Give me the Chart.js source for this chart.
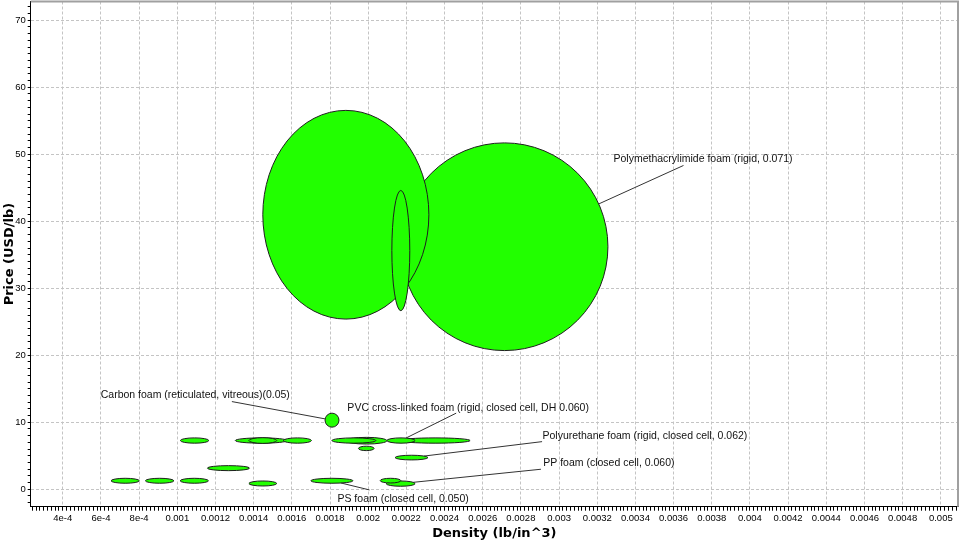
<!DOCTYPE html>
<html lang="en">
<head>
    <meta charset="UTF-8">
    <title>Price vs Density - Foams</title>
    <script src="https://cdn.jsdelivr.net/npm/chart.js"></script>
    <style>
        html, body {
            margin: 0;
            padding: 0;
            background: #ffffff;
        }
        .chart-box {
            width: 960px;
            height: 541px;
            position: relative;
        }
    </style>
</head>
<body>
    <div class="chart-box"><canvas id="foamChart"></canvas></div>

    <script>
        // Each material is a range: density (lb/in^3) and price (USD/lb)
        const materialNames = [
            'Polymethacrylimide foam (rigid, 0.071)', '', '', 'Carbon foam (reticulated, vitreous)(0.05)',
            '', '', '', '', '', '', 'PVC cross-linked foam (rigid, closed cell, DH 0.060)', '',
            '', 'Polyurethane foam (rigid, closed cell, 0.062)', '',
            '', '', '', 'PS foam (closed cell, 0.050)', '', '', 'PP foam (closed cell, 0.060)'
        ];
        const densityLow  = [0.002172, 0.001448, 0.002124, 0.001774, 0.001016, 0.001304, 0.001375, 0.001556, 0.00181, 0.001883, 0.002098, 0.002167, 0.001949, 0.002141, 0.001158, 0.000653, 0.000833, 0.001015, 0.0017, 0.001375, 0.002063, 0.002094];
        const densityHigh = [0.003256, 0.002318, 0.002218, 0.001847, 0.001165, 0.001575, 0.001521, 0.001703, 0.00204, 0.002098, 0.002246, 0.002534, 0.002031, 0.002313, 0.001378, 0.000801, 0.000982, 0.001163, 0.00192, 0.001521, 0.002171, 0.002246];
        const priceLow    = [20.7, 25.4, 26.65, 9.27, 6.88, 6.88, 6.85, 6.88, 6.88, 6.75, 6.88, 6.88, 5.77, 4.38, 2.78, 0.9, 0.9, 0.9, 0.9, 0.49, 0.94, 0.45];
        const priceHigh   = [51.7, 56.55, 44.6, 11.36, 7.67, 7.67, 7.7, 7.67, 7.67, 7.75, 7.67, 7.67, 6.43, 5.08, 3.53, 1.64, 1.64, 1.64, 1.64, 1.24, 1.64, 1.24];

        // Callouts: material index, text anchor (left, middle) and leader end, in data units
        const callouts = [
            { i: 0,  tx: 0.003285, ty: 49.33, lx: 0.003652, ly: 48.33 },
            { i: 3,  tx: 0.000599, ty: 13.99, lx: 0.001286, ly: 13.09 },
            { i: 10, tx: 0.001891, ty: 12.11, lx: 0.002461, ly: 11.36 },
            { i: 13, tx: 0.002913, ty: 7.97,  lx: 0.002911, ly: 7.11 },
            { i: 21, tx: 0.002917, ty: 3.89,  lx: 0.002905, ly: 2.99 },
            { i: 18, tx: 0.001839, ty: -1.49, lx: 0.002007, ly: -0.1 }
        ];

        const centers = densityLow.map((d, i) => ({
            x: (d + densityHigh[i]) / 2,
            y: (priceLow[i] + priceHigh[i]) / 2
        }));

        function xTickLabel(v) {
            if (v < 0.00099) return Math.round(v * 1e4) + 'e-4';
            return String(Number(v.toPrecision(3)));
        }

        // draws every range as an ellipse through the chart scales, biggest first
        const rangeEllipses = {
            id: 'rangeEllipses',
            afterDatasetsDraw(chart) {
                const { ctx, chartArea, scales: { x, y } } = chart;

                ctx.save();
                ctx.strokeStyle = '#a0a0a0';
                ctx.lineWidth = 2;
                ctx.beginPath();
                ctx.moveTo(chartArea.left, chartArea.top);
                ctx.lineTo(chartArea.right, chartArea.top);
                ctx.lineTo(chartArea.right, chartArea.bottom);
                ctx.stroke();
                ctx.restore();

                const area = i => (densityHigh[i] - densityLow[i]) * (priceHigh[i] - priceLow[i]);
                const order = densityLow.map((_, i) => i).sort((a, b) => area(b) - area(a));

                ctx.save();
                ctx.beginPath();
                ctx.rect(chartArea.left, chartArea.top, chartArea.width, chartArea.height);
                ctx.clip();

                const geo = [];
                densityLow.forEach((d, i) => {
                    const x1 = x.getPixelForValue(d), x2 = x.getPixelForValue(densityHigh[i]);
                    const y1 = y.getPixelForValue(priceLow[i]), y2 = y.getPixelForValue(priceHigh[i]);
                    geo[i] = { cx: (x1 + x2) / 2, cy: (y1 + y2) / 2, rx: Math.abs(x2 - x1) / 2, ry: Math.abs(y2 - y1) / 2 };
                });

                order.forEach(i => {
                    const g = geo[i];
                    ctx.beginPath();
                    ctx.ellipse(g.cx, g.cy, g.rx, g.ry, 0, 0, Math.PI * 2);
                    ctx.fillStyle = '#22ff00';
                    ctx.fill();
                    ctx.lineWidth = 1;
                    ctx.strokeStyle = '#1e1e1e';
                    ctx.stroke();
                });

                // leader lines + labels
                ctx.font = '10.5px "Liberation Sans", Arial, sans-serif';
                ctx.textBaseline = 'middle';
                ctx.textAlign = 'left';
                callouts.forEach(c => {
                    const g = geo[c.i];
                    const ex = x.getPixelForValue(c.lx), ey = y.getPixelForValue(c.ly);
                    const dx = ex - g.cx, dy = ey - g.cy;
                    const t = 1 / Math.sqrt((dx / g.rx) ** 2 + (dy / g.ry) ** 2);
                    ctx.beginPath();
                    ctx.moveTo(g.cx + dx * t, g.cy + dy * t);
                    ctx.lineTo(ex, ey);
                    ctx.lineWidth = 1;
                    ctx.strokeStyle = '#333333';
                    ctx.stroke();
                    ctx.fillStyle = '#111111';
                    ctx.fillText(materialNames[c.i], x.getPixelForValue(c.tx), y.getPixelForValue(c.ty));
                });
                ctx.restore();
            }
        };

        const gridColor = c => (c.tick && c.tick.isMajor ? '#c4c4c4' : 'rgba(0,0,0,0)');
        const titleFont = { family: '"DejaVu Sans", Verdana, sans-serif', size: 13, weight: 'bold' };
        const tickFont = { family: '"Liberation Sans", Arial, sans-serif', size: 9.5 };

        const ctx = document.getElementById('foamChart').getContext('2d');
        const foamChart = new Chart(ctx, {
            type: 'scatter',
            data: {
                datasets: [{
                    label: 'Foams',
                    data: centers,
                    pointRadius: 0,
                    pointHoverRadius: 0
                }]
            },
            options: {
                responsive: true,
                maintainAspectRatio: false,
                animation: false,
                layout: { padding: { top: 1.5, right: 2, left: 0, bottom: 0 } },
                plugins: {
                    legend: { display: false },
                    tooltip: { enabled: false }
                },
                scales: {
                    x: {
                        type: 'linear',
                        min: 0.000232,
                        max: 0.00509,
                        afterBuildTicks: scale => {
                            const ticks = [];
                            for (let k = Math.ceil(scale.min / 2e-5); k * 2e-5 <= scale.max; k++) {
                                ticks.push({ value: k * 2e-5, isMajor: k % 10 === 0 });
                            }
                            scale.ticks = ticks;
                        },
                        afterFit: scale => {
                            scale.height = 34.3;
                            scale.paddingLeft = 0;
                            scale.paddingRight = 0;
                        },
                        ticks: {
                            autoSkip: false,
                            maxRotation: 0,
                            minRotation: 0,
                            padding: 2,
                            color: '#000',
                            font: tickFont,
                            callback: (value, index, ticks) => (ticks[index].isMajor ? xTickLabel(value) : '')
                        },
                        grid: {
                            color: gridColor,
                            tickColor: '#000',
                            tickLength: 4,
                            tickBorderDash: []
                        },
                        border: { color: '#000', width: 1, dash: [3, 2] },
                        title: {
                            display: true,
                            text: 'Density (lb/in^3)',
                            color: '#000',
                            font: titleFont,
                            padding: { top: 0, bottom: 0 }
                        }
                    },
                    y: {
                        type: 'linear',
                        min: -2.6,
                        max: 72.8,
                        afterBuildTicks: scale => {
                            const ticks = [];
                            for (let v = Math.ceil(scale.min); v <= scale.max; v++) {
                                ticks.push({ value: v, isMajor: v % 10 === 0 });
                            }
                            scale.ticks = ticks;
                        },
                        afterFit: scale => {
                            scale.width = 30.7;
                            scale.paddingTop = 0;
                            scale.paddingBottom = 0;
                        },
                        ticks: {
                            autoSkip: false,
                            padding: 2,
                            color: '#000',
                            font: tickFont,
                            callback: (value, index, ticks) => (ticks[index].isMajor ? String(value) : '')
                        },
                        grid: {
                            color: gridColor,
                            tickColor: '#000',
                            tickLength: 3,
                            tickBorderDash: []
                        },
                        border: { color: '#000', width: 1, dash: [3, 2] },
                        title: {
                            display: true,
                            text: 'Price (USD/lb)',
                            color: '#000',
                            font: titleFont,
                            padding: { top: 2, bottom: 0 }
                        }
                    }
                }
            },
            plugins: [rangeEllipses]
        });
    </script>
</body>
</html>
